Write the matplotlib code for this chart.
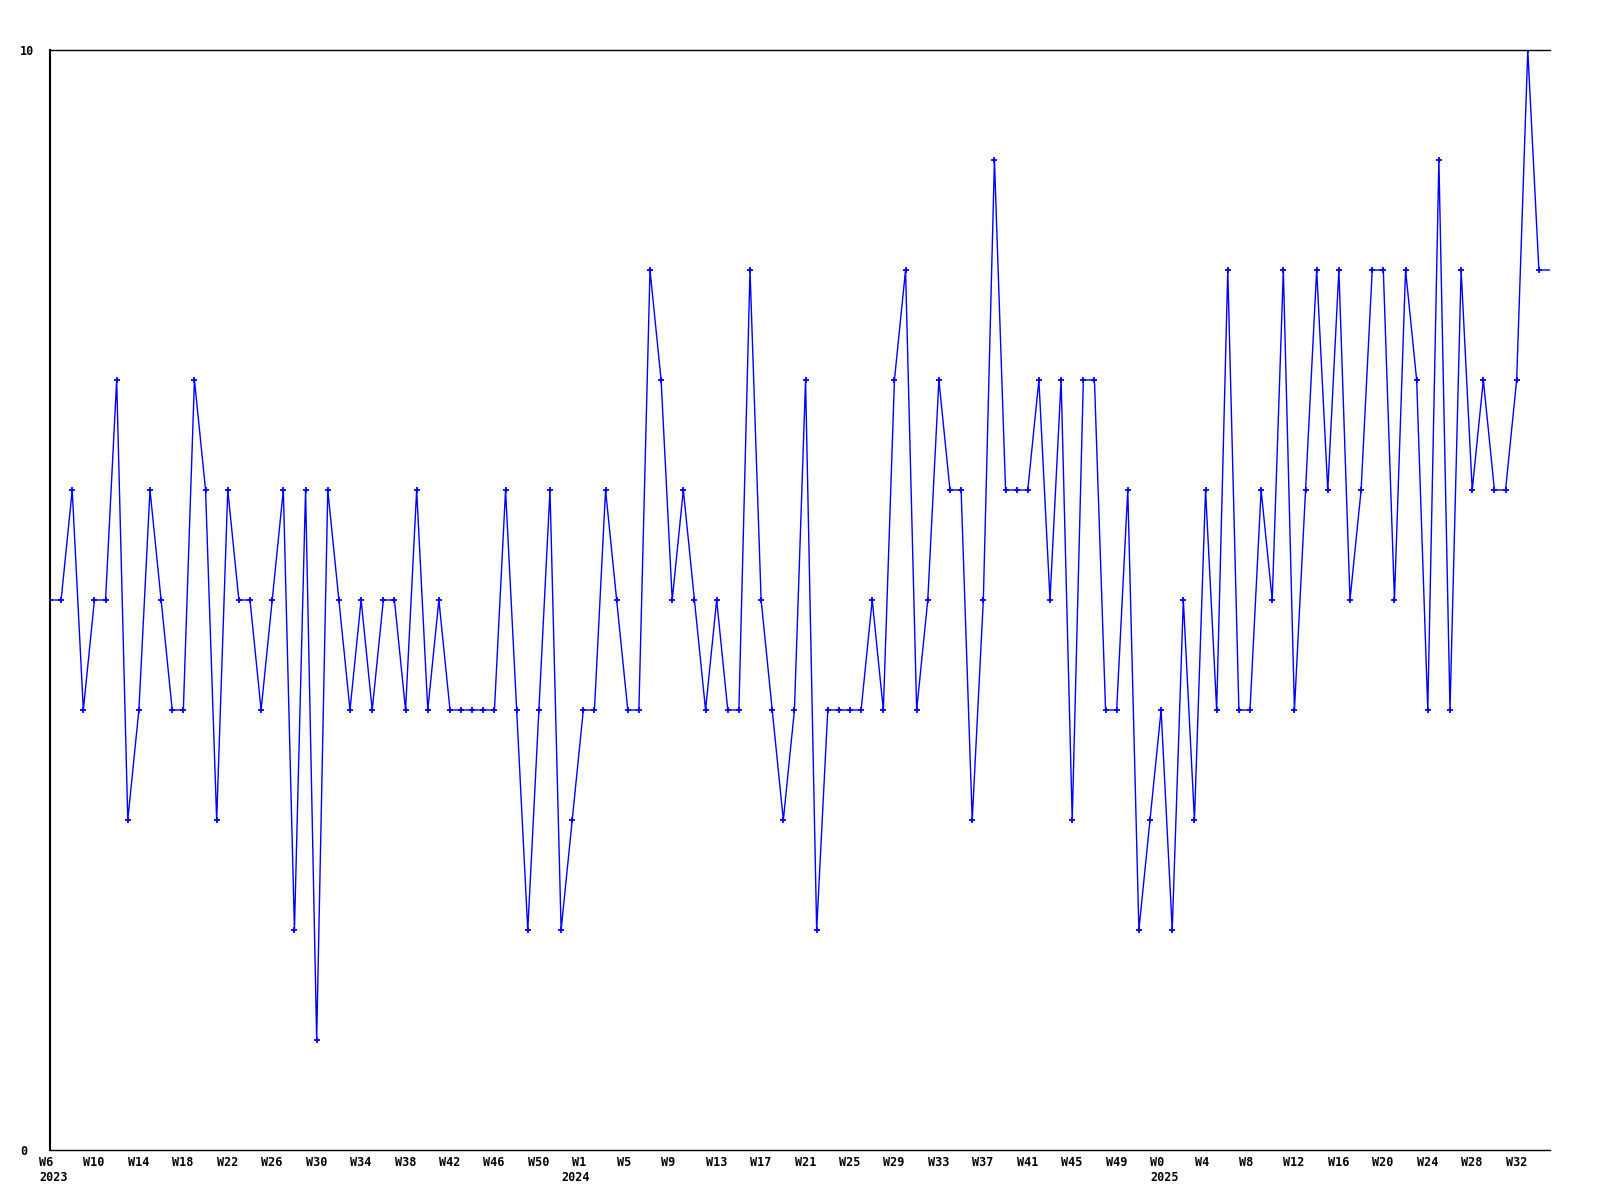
import matplotlib
matplotlib.use("Agg")
import matplotlib.pyplot as plt
import matplotlib.transforms as mtransforms

# weekly values, W6 2023 .. W35 2025
valores = [5, 5, 6, 4, 5, 5, 7, 3, 4, 6, 5, 4, 4, 7, 6, 3, 6, 5, 5, 4,
           5, 6, 2, 6, 1, 6, 5, 4, 5, 4, 5, 5, 4, 6, 4, 5, 4, 4, 4, 4,
           4, 6, 4, 2, 4, 6, 2, 3, 4, 4, 6, 5, 4, 4, 8, 7, 5, 6, 5, 4,
           5, 4, 4, 8, 5, 4, 3, 4, 7, 2, 4, 4, 4, 4, 5, 4, 7, 8, 4, 5,
           7, 6, 6, 3, 5, 9, 6, 6, 6, 7, 5, 7, 3, 7, 7, 4, 4, 6, 2, 3,
           4, 2, 5, 3, 6, 4, 8, 4, 4, 6, 5, 8, 4, 6, 8, 6, 8, 5, 6, 8,
           8, 5, 8, 7, 4, 9, 4, 8, 6, 7, 6, 6, 7, 10, 8, 8]

semanas = ['W6', 'W10', 'W14', 'W18', 'W22', 'W26', 'W30', 'W34', 'W38', 'W42', 'W46', 'W50',
           'W1', 'W5', 'W9', 'W13', 'W17', 'W21', 'W25', 'W29', 'W33', 'W37', 'W41', 'W45', 'W49',
           'W0', 'W4', 'W8', 'W12', 'W16', 'W20', 'W24', 'W28', 'W32']
anos = ['2023', '2024', '2025']
inicio_ano = [0, 47, 100]   # index of first week shown for each year

x = list(range(len(valores)))
posicoes = list(range(0, 4 * len(semanas), 4))

fig = plt.figure(figsize=(16, 12), dpi=100)
ax = fig.add_axes([50 / 1600, 50 / 1200, 1500 / 1600, 1100 / 1200])

ax.plot(x, valores, color='#0000ff', linewidth=1.0, marker='+',
        markersize=5, markeredgewidth=1.3, markevery=list(range(len(valores) - 1)))

ax.set_xlim(0, len(valores) - 1)
ax.set_ylim(0, 10)

fonte = dict(family='DejaVu Sans Mono', fontsize=8.5, fontweight='bold')

ax.set_xticks(posicoes)
ax.set_xticklabels(semanas, ha='left', va='top', **fonte)
ax.tick_params(axis='x', length=0, pad=4)
desloc_x = mtransforms.ScaledTranslation(-11 / 100, 0, fig.dpi_scale_trans)
for lbl in ax.get_xticklabels():
    lbl.set_transform(lbl.get_transform() + desloc_x)

ax.set_yticks([0, 10])
ax.set_yticklabels(['0', '10'], ha='left', **fonte)
ax.tick_params(axis='y', length=0, pad=0)
desloc_y = mtransforms.ScaledTranslation(-30 / 100, 0, fig.dpi_scale_trans)
for lbl in ax.get_yticklabels():
    lbl.set_transform(lbl.get_transform() + desloc_y)

for ano, pos in zip(anos, inicio_ano):
    ax.annotate(ano, xy=(pos, 0), xycoords=('data', 'axes fraction'),
                xytext=(-11, -21), textcoords='offset pixels',
                ha='left', va='top', annotation_clip=False, **fonte)

ax.spines['right'].set_visible(False)
ax.spines['left'].set_linewidth(1.5)
ax.spines['bottom'].set_linewidth(1.0)
ax.spines['top'].set_linewidth(1.0)

plt.savefig('out.png', dpi=100)
